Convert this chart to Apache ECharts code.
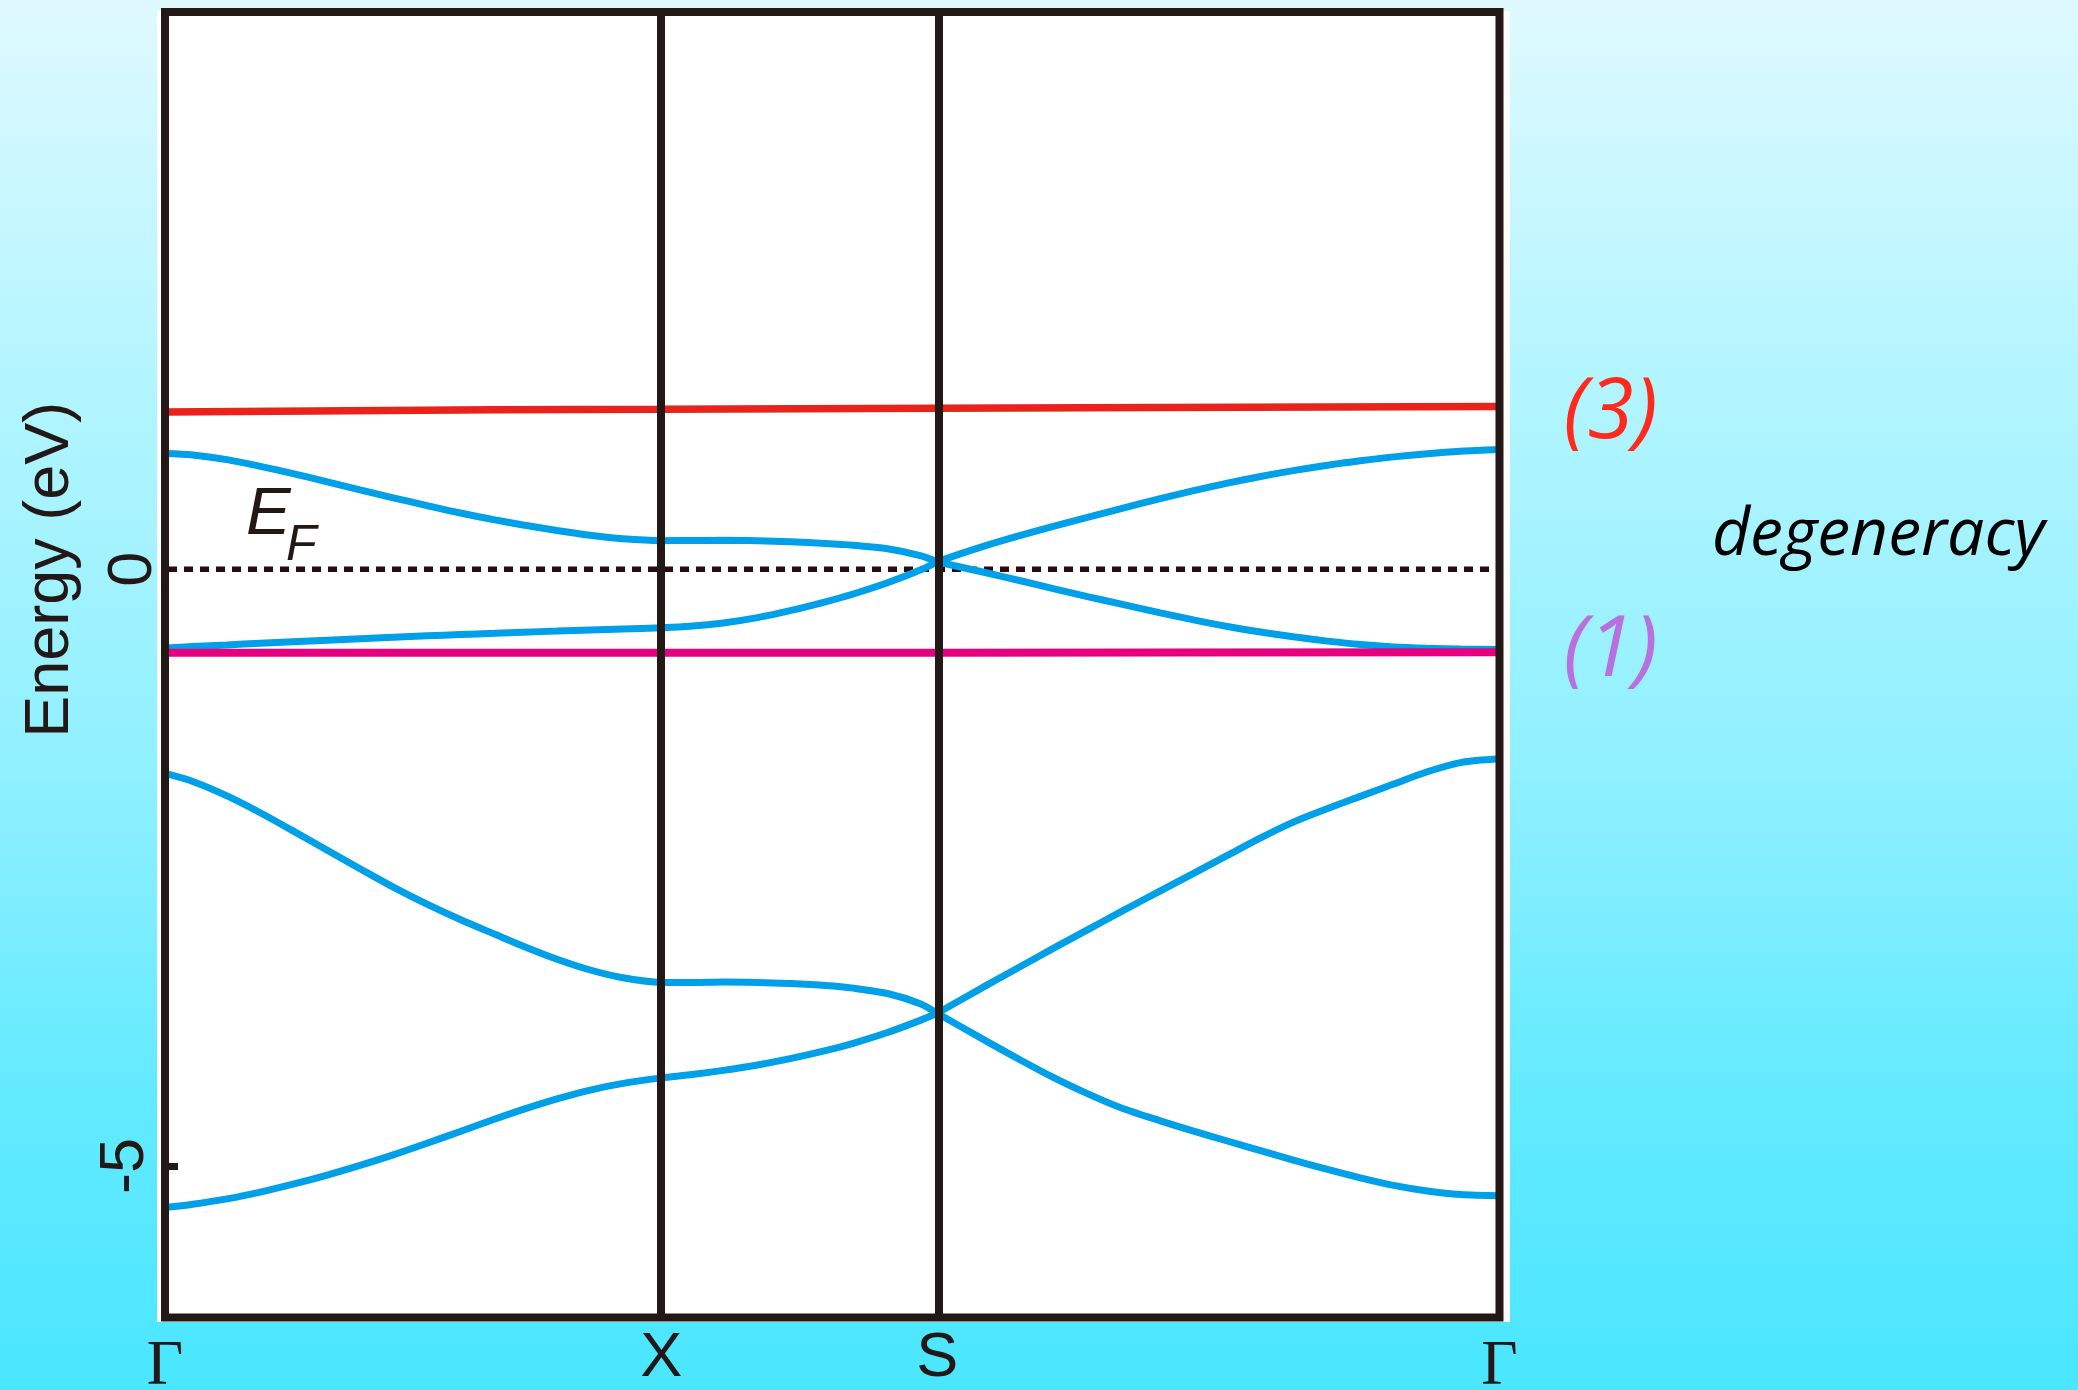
<!DOCTYPE html>
<html>
<head>
<meta charset="utf-8">
<title>Band structure</title>
<script src="https://cdn.jsdelivr.net/npm/echarts@6/dist/echarts.min.js"></script>
<style>
  html, body { margin: 0; padding: 0; }
  #chart { width: 2078px; height: 1390px; }
</style>
</head>
<body>
<div id="chart"></div>
<script>
// k-path coordinate (Γ–X segment length = 1)
const kGrid = [0, 0.056, 0.125, 0.192, 0.258, 0.327, 0.393, 0.460, 0.528, 0.595,
  0.665, 0.722, 0.790, 0.857, 0.923, 1.000, 1.058, 1.125, 1.194, 1.260,
  1.331, 1.387, 1.456, 1.522, 1.5565, 1.589, 1.657, 1.724, 1.790, 1.859,
  1.925, 2.006, 2.073, 2.141, 2.208, 2.274, 2.343, 2.409, 2.476, 2.544,
  2.611, 2.6895];

// high-symmetry points along the path
const highSymK = [0, 1.0, 1.5565, 2.6895];
const highSymLabels = ['Γ', 'X', 'S', 'Γ'];

// energy tick labels (eV)
const energyTicks = [0, -5];

// dispersive bands (eV), sampled on kGrid
const bandA = [0.97, 0.958, 0.919, 0.863, 0.802, 0.733, 0.666, 0.599, 0.534, 0.472,
  0.414, 0.371, 0.325, 0.285, 0.255, 0.24, 0.241, 0.243, 0.239, 0.23,
  0.217, 0.202, 0.172, 0.115, 0.063, 0.032, -0.031, -0.096, -0.162, -0.229,
  -0.29, -0.365, -0.424, -0.479, -0.526, -0.566, -0.602, -0.631, -0.651, -0.662,
  -0.669, -0.673];
const bandB = [-0.66, -0.648, -0.634, -0.62, -0.607, -0.594, -0.582, -0.57, -0.558, -0.547,
  -0.536, -0.527, -0.518, -0.509, -0.5, -0.49, -0.478, -0.45, -0.405, -0.347,
  -0.273, -0.207, -0.113, -0.006, 0.063, 0.11, 0.202, 0.284, 0.36, 0.435,
  0.507, 0.592, 0.659, 0.722, 0.778, 0.827, 0.872, 0.909, 0.942, 0.969,
  0.989, 1.003];
const bandC = [-1.711, -1.778, -1.899, -2.04, -2.192, -2.354, -2.509, -2.663, -2.806, -2.935,
  -3.059, -3.159, -3.268, -3.358, -3.423, -3.462, -3.463, -3.458, -3.462, -3.472,
  -3.488, -3.51, -3.555, -3.64, -3.721, -3.643, -3.483, -3.329, -3.177, -3.022,
  -2.873, -2.695, -2.548, -2.398, -2.251, -2.119, -2.005, -1.903, -1.8, -1.697,
  -1.62, -1.588];
const bandD = [-5.349, -5.321, -5.276, -5.219, -5.153, -5.076, -4.995, -4.907, -4.81, -4.711,
  -4.607, -4.526, -4.438, -4.364, -4.308, -4.262, -4.236, -4.199, -4.154, -4.101,
  -4.034, -3.972, -3.882, -3.78, -3.721, -3.798, -3.958, -4.112, -4.258, -4.394,
  -4.51, -4.622, -4.708, -4.791, -4.872, -4.951, -5.029, -5.1, -5.163, -5.21,
  -5.24, -5.25];

// flat bands: threefold (3) and single (1) degenerate levels
const flatK = [0, 0.665, 1.0, 1.5565, 2.006, 2.6895];
const tripletE = [1.319, 1.337, 1.341, 1.35, 1.356, 1.365];
const singletE = [-0.70, -0.70, -0.70, -0.70, -0.698, -0.695];

const fermiLevel = 0;
const energyMin = -6.27;
const energyMax = 4.67;

const ink = '#231815';
const bandBlue = '#00a0e9';
const kEnd = highSymK[highSymK.length - 1];
const iS = kGrid.indexOf(highSymK[2]);   // bands cross with a kink at S

function pairs(ks, es) { return ks.map((k, i) => [k, es[i]]); }

function symLabel(v) {
  let best = 0;
  highSymK.forEach((k, i) => { if (Math.abs(k - v) < Math.abs(highSymK[best] - v)) best = i; });
  const t = highSymLabels[best];
  return t === 'Γ' ? '{g|' + t + '}' : '{s|' + t + '}';
}

function energyLabel(v) {
  return v < 0 ? '{far|' + v + '}' : '{near|' + v + '}';
}

const chart = echarts.init(document.getElementById('chart'), null, { renderer: 'canvas' });

// each band is drawn as two smooth legs, Γ→S and S→Γ
const bandSeries = [];
[bandA, bandB, bandC, bandD].forEach((b, i) => {
  const pts = pairs(kGrid, b);
  [pts.slice(0, iS + 1), pts.slice(iS)].forEach((leg, j) => {
    bandSeries.push({
      type: 'line',
      name: 'band' + (i + 1) + (j ? 'b' : 'a'),
      data: leg,
      symbol: 'none',
      smooth: 0.3,
      lineStyle: { color: bandBlue, width: 7, cap: 'round' },
      z: 3,
      silent: true
    });
  });
});

const tickFont = { fontFamily: '"Liberation Sans"', fontSize: 63, color: ink };

chart.setOption({
  animation: false,
  backgroundColor: {
    type: 'linear', x: 0, y: 0, x2: 0, y2: 1,
    colorStops: [
      { offset: 0, color: '#def9fe' },
      { offset: 0.27, color: '#b3f5ff' },
      { offset: 0.56, color: '#8ff0ff' },
      { offset: 0.79, color: '#62eaff' },
      { offset: 1, color: '#4ae6ff' }
    ]
  },
  graphic: [
    { type: 'rect', z: -10, silent: true,
      shape: { x: 157, y: 11, width: 1353, height: 1311 }, style: { fill: '#ffffff' } },
    { type: 'text', z: 20, x: 246, y: 515, silent: true,
      style: { text: 'E', fill: ink, font: 'italic 67px "Liberation Sans"', verticalAlign: 'middle' } },
    { type: 'text', z: 20, x: 286, y: 546, silent: true,
      style: { text: 'F', fill: ink, font: 'italic 50px "Liberation Sans"', verticalAlign: 'middle' } },
    { type: 'text', z: 20, x: 1712, y: 536, silent: true,
      style: { text: 'degeneracy', fill: '#000000', font: 'italic 66px "Open Sans"', verticalAlign: 'middle' } }
  ],
  grid: {
    show: true, left: 165, right: 578.5, top: 12, bottom: 72.5,
    outerBoundsMode: 'none', containLabel: false,
    borderColor: ink, borderWidth: 8, backgroundColor: 'transparent', z: 10
  },
  xAxis: {
    type: 'value', min: 0, max: kEnd,
    axisLine: { show: false },
    axisTick: { show: false },
    splitLine: { show: false },
    axisLabel: {
      customValues: highSymK,
      margin: 10,
      formatter: symLabel,
      rich: {
        g: { fontFamily: '"Liberation Serif"', fontSize: 63, color: ink, padding: [8, 0, 0, 0] },
        s: { fontFamily: '"Liberation Sans"', fontSize: 63, color: ink }
      }
    }
  },
  yAxis: {
    type: 'value', min: energyMin, max: energyMax,
    name: 'Energy (eV)',
    nameLocation: 'middle',
    nameGap: 83,
    nameTextStyle: { fontFamily: '"Liberation Sans"', fontSize: 63, color: ink, padding: [0, 0, 0, 190] },
    axisLine: { show: false },
    splitLine: { show: false },
    axisTick: { show: true, inside: true, length: 13, customValues: [-5], lineStyle: { color: ink, width: 7 } },
    axisLabel: {
      customValues: energyTicks,
      rotate: 90,
      margin: 0,
      formatter: energyLabel,
      rich: {
        near: Object.assign({}, tickFont),
        far: Object.assign({ padding: [0, 0, 8, 0] }, tickFont)
      }
    }
  },
  series: [
    {
      type: 'line', name: 'EF',
      data: [[0, fermiLevel], [kEnd, fermiLevel]],
      symbol: 'none', silent: true, z: 2,
      lineStyle: { color: '#2b0b12', width: 5.5, type: [9, 7], dashOffset: -3 },
      markLine: {
        silent: true, symbol: ['none', 'none'], z: 6,
        label: { show: false },
        lineStyle: { color: ink, width: 8, type: 'solid' },
        data: highSymK.slice(1, 3).map(k => ({ xAxis: k }))
      }
    },
    ...bandSeries,
    {
      type: 'line', name: 'triplet',
      data: pairs(flatK, tripletE),
      symbol: 'none', silent: true, z: 4,
      lineStyle: { color: '#e8231b', width: 7.5 },
      endLabel: {
        show: true, formatter: '(3)', distance: 64, offset: [0, 8],
        color: '#ff2a1e', fontSize: 84, fontStyle: 'italic', fontFamily: '"Open Sans"'
      }
    },
    {
      type: 'line', name: 'singlet',
      data: pairs(flatK, singletE),
      symbol: 'none', silent: true, z: 4,
      lineStyle: { color: '#e4007f', width: 8 },
      endLabel: {
        show: true, formatter: '(1)', distance: 64,
        color: '#b86fe0', fontSize: 84, fontStyle: 'italic', fontFamily: '"Open Sans"'
      }
    }
  ]
});
</script>
</body>
</html>
